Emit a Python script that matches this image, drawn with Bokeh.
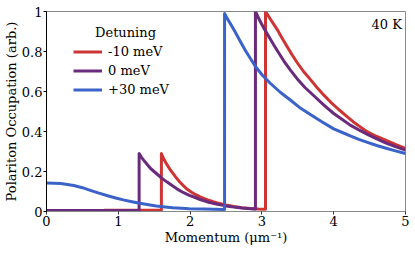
from bokeh.plotting import figure
from bokeh.models import Range1d, FixedTicker, Legend, LegendItem, Label
from bokeh.embed import file_html
from bokeh.resources import INLINE

# ---- data ----
k_red = [0.80, 1.60, 1.60, 1.63, 1.66, 1.70, 1.73, 1.77, 1.80, 1.85, 1.91, 1.96, 2.02, 2.08, 2.14, 2.20,
         2.26, 2.32, 2.38, 2.50, 2.61, 2.72, 2.84, 2.95, 3.05,
         3.05, 3.13, 3.21, 3.28, 3.35, 3.42, 3.49, 3.58, 3.68, 3.77, 3.86, 3.96, 4.07, 4.17, 4.27, 4.37,
         4.47, 4.60, 4.73, 4.86, 5.00]
n_red = [0.006, 0.006, 0.290, 0.265, 0.245, 0.222, 0.205, 0.187, 0.172, 0.150, 0.128, 0.111, 0.096, 0.084, 0.073, 0.064,
         0.056, 0.049, 0.043, 0.033, 0.025, 0.019, 0.015, 0.012, 0.011,
         1.000, 0.955, 0.912, 0.868, 0.825, 0.784, 0.745, 0.700, 0.658, 0.619, 0.583, 0.546, 0.510, 0.479, 0.449, 0.423,
         0.398, 0.375, 0.355, 0.335, 0.316]

k_pur = [0.00, 1.29, 1.29, 1.32, 1.35, 1.40, 1.45, 1.53, 1.60, 1.68, 1.76, 1.84, 1.91, 1.99, 2.07, 2.14,
         2.26, 2.38, 2.50, 2.61, 2.72, 2.84, 2.91,
         2.91, 2.97, 3.03, 3.10, 3.17, 3.24, 3.31, 3.40, 3.49, 3.60, 3.72, 3.86, 4.00, 4.12, 4.23, 4.35,
         4.47, 4.60, 4.73, 4.86, 5.00]
n_pur = [0.005, 0.005, 0.290, 0.272, 0.258, 0.236, 0.215, 0.190, 0.168, 0.147, 0.127, 0.108, 0.094, 0.081, 0.070, 0.060,
         0.046, 0.036, 0.028, 0.022, 0.017, 0.014, 0.012,
         1.000, 0.955, 0.915, 0.872, 0.830, 0.790, 0.750, 0.706, 0.664, 0.620, 0.580, 0.533, 0.490, 0.460, 0.432, 0.408,
         0.386, 0.363, 0.342, 0.324, 0.307]

k_blu = [0.00, 0.20, 0.38, 0.50, 0.61, 0.72, 0.84, 0.95, 1.07, 1.19, 1.30, 1.42, 1.53, 1.65, 1.76, 1.88, 1.99, 2.20, 2.48,
         2.48, 2.52, 2.56, 2.63, 2.70, 2.77, 2.84, 2.91, 3.01, 3.12, 3.26, 3.40, 3.54, 3.68, 3.84, 4.00, 4.12,
         4.23, 4.35, 4.47, 4.60, 4.73, 4.86, 5.00]
n_blu = [0.143, 0.140, 0.130, 0.119, 0.106, 0.093, 0.080, 0.069, 0.058, 0.049, 0.041, 0.034, 0.028, 0.023, 0.019, 0.016, 0.014, 0.012, 0.010,
         0.990, 0.963, 0.940, 0.896, 0.850, 0.805, 0.765, 0.725, 0.680, 0.640, 0.595, 0.556, 0.516, 0.484, 0.448, 0.413, 0.395,
         0.378, 0.361, 0.346, 0.330, 0.316, 0.303, 0.290]

labels = ["-10 meV", "0 meV", "+30 meV"]
colors = ["#cd3434", "#6a2b7c", "#3a62c8"]

x_ticks = [0, 1, 2, 3, 4, 5]
y_ticks = [0, 0.2, 0.4, 0.6, 0.8, 1.0]
y_tick_labels = {0: "0", 0.2: "0.2", 0.4: "0.4", 0.6: "0.6", 0.8: "0.8", 1.0: "1"}

FONT = "DejaVu Serif"

p = figure(width=415, height=253, output_backend="svg", toolbar_location=None,
           x_range=Range1d(0, 5), y_range=Range1d(0, 1),
           min_border_left=46, min_border_right=10, min_border_top=11, min_border_bottom=42)
p.background_fill_color = "white"
p.border_fill_color = "white"
p.grid.visible = False
p.outline_line_color = "#888888"
p.outline_line_width = 1

renderers = []
for kx, ny, c in zip([k_red, k_pur, k_blu], [n_red, n_pur, n_blu], colors):
    r = p.line(kx, ny, line_color=c, line_width=3, line_join="round")
    renderers.append(r)

legend = Legend(items=[LegendItem(label=l, renderers=[r]) for l, r in zip(labels, renderers)],
                location=(27, 114), border_line_color=None, background_fill_alpha=0,
                padding=0, margin=0, spacing=4, glyph_width=29, glyph_height=15,
                label_height=15, label_standoff=6, label_text_font=FONT,
                label_text_font_size="13px", label_text_color="black")
p.add_layout(legend)

title_lbl = Label(x=1.1, y=0.895, text="Detuning", text_font=FONT, text_font_size="13px",
                  text_align="center", text_baseline="middle", text_color="black")
p.add_layout(title_lbl)

temp_lbl = Label(x=4.95, y=0.975, text="40 K", text_font=FONT, text_font_size="13px",
                 text_align="right", text_baseline="top", text_color="black")
p.add_layout(temp_lbl)

# axes
p.xaxis.ticker = FixedTicker(ticks=x_ticks)
p.yaxis.ticker = FixedTicker(ticks=y_ticks)
p.yaxis.major_label_overrides = y_tick_labels
p.xaxis.axis_label = "Momentum (\u03bcm\u207b\u00b9)"
p.yaxis.axis_label = "Polariton Occupation (arb.)"
for ax in (p.xaxis[0], p.yaxis[0]):
    ax.axis_label_text_font = FONT
    ax.axis_label_text_font_size = "13px"
    ax.axis_label_text_font_style = "normal"
    ax.axis_label_text_color = "black"
    ax.major_label_text_font = FONT
    ax.major_label_text_font_size = "13px"
    ax.major_label_text_color = "black"
    ax.minor_tick_line_color = None
    ax.major_tick_in = 0
    ax.major_tick_out = 3
    ax.major_label_standoff = 1
    ax.axis_label_standoff = 1
p.yaxis.axis_line_color = "black"
p.yaxis.major_tick_line_color = "black"
p.xaxis.axis_line_color = "#888888"
p.xaxis.major_tick_line_color = "#333333"
p.yaxis.axis_label_standoff = 0

open("out.html", "w").write(file_html(p, INLINE))
